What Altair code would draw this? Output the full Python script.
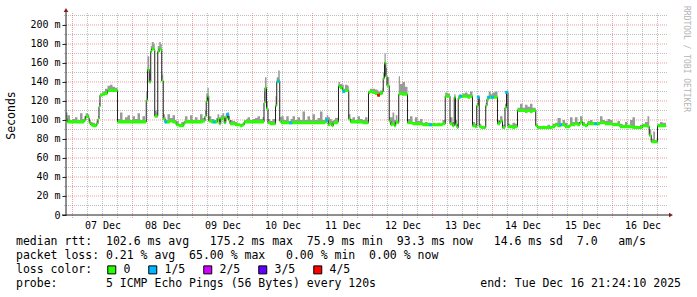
import json
import altair as alt
import pandas as pd

# ---------------- data (time = hours since 07 Dec 2025 00:00) ----------------
t_hours = [
    -2.6, -2, -1, 0, 1, 2, 3, 4, 4.7, 5.3, 6.2, 6.7, 7.3, 8, 9, 9.6, 10.2, 10.6, 11, 12, 13, 14, 15, 16, 17, 18, 19, 20, 21, 22, 23,
    24, 25, 26, 27, 28, 29, 29.5, 30, 30.7, 31.3, 31.7, 32.5, 32.9, 33.7, 34.1, 34.7, 35.3, 35.7, 36.3, 37, 37.3, 38, 39, 40, 41, 41.5, 42.5, 43.5, 44.5, 45, 46, 47,
    48, 49, 50, 51, 52, 53, 53.5, 54, 54.5, 55.5, 56.7, 57.5, 58, 58.7, 59.3, 60, 60.7, 61.3, 62, 62.5, 63, 64, 65, 66, 67, 68, 68.7, 69.5, 70, 71,
    72, 73, 74, 75, 76, 76.6, 77, 77.6, 78.2, 79, 80, 81.2, 81.7, 82.3, 82.9, 83.5, 84.5, 85.5, 86.5, 87.3, 88, 89, 90, 91, 92, 93, 94, 95,
    96, 97, 98, 99, 100, 101, 101.7, 102.3, 103, 103.7, 104.3, 105, 106, 106.4, 107, 108, 108.5, 109, 110, 110.5, 111.2, 112, 113, 114, 115, 116, 117, 118,
    118.4, 119, 120, 121, 122, 122.4, 123, 124, 124.3, 124.8, 125.3, 125.8, 126.7, 127.3, 128, 128.7, 129.3, 130, 130.5, 131, 132, 133, 134, 135, 136, 137, 138, 139, 140, 141, 142, 143.3,
    144, 145, 146, 147, 148, 149.1, 150, 151, 152, 152.7, 153.2, 153.8, 154.3, 154.8, 155.3, 156, 157, 158, 159, 160, 161, 161.7, 162.3, 162.7, 163.5, 164.5, 165.3, 165.8, 166.5, 167.3, 168,
    169, 170, 171, 172, 173, 173.6, 174.2, 175, 176, 177, 178, 179, 180, 181, 182, 183, 184, 185.3, 186, 187, 188, 189, 190, 191, 192,
    193, 194, 195.3, 196, 197, 198, 199, 200, 201, 202, 203, 204, 205, 206, 207, 208, 209.3, 210, 211, 212, 213, 214, 215, 216,
    217, 218, 219, 220, 221, 222, 223, 224, 225, 226, 227, 228, 229, 230, 230.7, 231.5, 232.3, 233, 234, 235, 236, 237.4,
]
median_ms = [
    101, 98, 98, 98, 98, 98, 98, 98, 100, 104, 102, 97, 95, 94, 94, 96, 101, 114, 126, 127, 128, 131, 131, 131, 131, 98, 98, 98, 98, 98, 98,
    98, 98, 98, 98, 98, 98, 121, 153, 140, 172, 175, 174, 104, 104, 172, 175, 174, 141, 101, 98, 98, 98, 99, 98, 97, 95, 94, 94, 96, 98, 98, 98,
    98, 98, 98, 98, 99, 104, 120, 125, 99, 98, 98, 98, 101, 96, 101, 102, 97, 102, 106, 100, 96, 96, 95, 95, 94, 95, 98, 98, 98, 98,
    98, 98, 98, 98, 98, 118, 134, 112, 97, 96, 96, 115, 140, 141, 99, 97, 97, 97, 97, 97, 97, 97, 97, 97, 97, 97, 97, 97,
    97, 97, 97, 97, 97, 98, 100, 95, 96, 94, 97, 97, 98, 136, 134, 131, 130, 131, 131, 101, 98, 98, 98, 98, 98, 97, 97, 97,
    129, 130, 129, 128, 127, 126, 128, 130, 144, 160, 146, 136, 99, 95, 96, 94, 98, 97, 127, 128, 127, 127, 97, 97, 96, 96, 96, 96, 95, 95, 95, 95,
    95, 95, 95, 95, 96, 125, 125, 96, 94, 124, 95, 92, 123, 124, 125, 125, 125, 124, 125, 94, 93, 115, 124, 93, 92, 92, 115, 122, 124, 124, 124,
    124, 96, 99, 92, 113, 129, 93, 93, 92, 93, 110, 110, 110, 109, 110, 109, 110, 94, 92, 92, 92, 92, 92, 92, 93,
    95, 94, 95, 95, 93, 93, 95, 95, 96, 95, 98, 95, 94, 96, 96, 96, 96, 96, 97, 97, 96, 96, 96, 95,
    95, 95, 93, 93, 93, 93, 93, 92, 92, 92, 92, 94, 94, 93, 84, 77, 77, 77, 94, 94, 94, 93.3,
]
smoke_max_ms = [
    108, 105, 100, 101, 103, 100, 107, 101, 104, 107, 106, 100, 98, 97, 96, 99, 104, 118, 128, 130, 133, 136, 137, 135, 134, 101, 108, 100, 103, 105, 100,
    104, 101, 107, 100, 104, 100, 130, 167, 150, 178, 182, 180, 110, 108, 178, 182, 180, 148, 106, 103, 100, 106, 102, 105, 100, 99, 96, 98, 99, 104, 100, 105,
    100, 103, 100, 106, 102, 110, 128, 134, 104, 101, 100, 102, 106, 103, 105, 107, 104, 106, 108, 104, 100, 99, 98, 96, 96, 97, 100, 101, 103, 100,
    101, 102, 104, 101, 103, 130, 145, 120, 101, 99, 101, 125, 145, 152, 103, 104, 100, 104, 99, 101, 104, 100, 103, 100, 109, 100, 104, 100,
    106, 100, 102, 109, 100, 103, 105, 103, 101, 99, 100, 102, 103, 140, 138, 137, 133, 137, 136, 106, 101, 103, 100, 104, 101, 100, 103, 100,
    131, 133, 133, 132, 131, 130, 131, 134, 150, 170, 155, 145, 103, 103, 108, 100, 105, 99, 146, 138, 140, 135, 101, 104, 98, 103, 99, 101, 97, 98, 97, 96,
    97, 96, 97, 96, 100, 129, 128, 103, 98, 127, 100, 96, 126, 127, 126, 128, 129, 127, 130, 98, 96, 118, 126, 96, 94, 93, 118, 125, 130, 127, 129,
    130, 100, 104, 95, 117, 131, 96, 95, 97, 96, 113, 117, 113, 116, 114, 117, 113, 96, 94, 93, 94, 93, 95, 93, 96,
    97, 102, 96, 100, 97, 95, 103, 98, 103, 98, 104, 98, 96, 99, 100, 98, 97, 98, 104, 100, 99, 101, 100, 97,
    97, 99, 96, 95, 98, 95, 100, 103, 94, 93, 95, 96, 98, 104, 90, 80, 88, 79, 96, 98, 97, 95,
]
assert len(t_hours) == len(median_ms) == len(smoke_max_ms)

loss_t_hours = [37.3, 56.7, 62, 82.3, 87.3, 101.7, 108.5, 122.4, 143.3, 155.3, 162.3, 166.5, 168, 173.6, 195.3, 209.3]
loss_ms = [98, 98, 106, 141, 97, 100, 130, 126, 95, 125, 124, 124, 124, 129, 95, 96]
loss_class = ["1/5", "1/5", "1/5", "1/5", "1/5", "1/5", "1/5", "4/5", "1/5", "1/5", "1/5", "1/5", "1/5", "1/5", "1/5", "1/5"]

loss_labels = ["0", "1/5", "2/5", "3/5", "4/5"]
day_labels = ["07 Dec", "08 Dec", "09 Dec", "10 Dec", "11 Dec", "12 Dec", "13 Dec", "14 Dec", "15 Dec", "16 Dec"]
y_tick_values = [0, 20, 40, 60, 80, 100, 120, 140, 160, 180, 200]

x_end = 9 * 24 + 21 + 24 / 60 + 10 / 3600     # Tue Dec 16 21:24:10
x_start = x_end - 240                          # 10 days shown

stats_rtt = ["median rtt:", "102.6 ms avg", "175.2 ms max", "75.9 ms min", "93.3 ms now", "14.6 ms sd", "7.0", "am/s"]
stats_loss = ["packet loss:", "0.21 % avg", "65.00 % max", "0.00 % min", "0.00 % now"]
probe_text = ["probe:", "5 ICMP Echo Pings (56 Bytes) every 120s"]
end_text = "end: Tue Dec 16 21:24:10 2025"
watermark = "RRDTOOL / TOBI OETIKER"

# ---------------- styles ----------------
loss_colors = ["#26ff00", "#00b8ff", "#d200ff", "#6000ff", "#ff0000"]
MONO = "DejaVu Sans Mono"
NB = "\u00a0"


def join(parts, gaps):
    out = parts[0]
    for p, g in zip(parts[1:], gaps):
        out += NB * g + p
    return out


line_rtt = join(stats_rtt, [2, 3, 2, 2, 3, 2, 3])
line_loss = join(stats_loss, [1, 2, 3, 2])
line_probe = join(probe_text, [7])

df = pd.DataFrame({"t": t_hours, "med": median_ms, "hi": smoke_max_ms})
df_loss = pd.DataFrame({"t": loss_t_hours, "med": loss_ms, "cls": loss_class})
minor_x = [h for h in range(6, 238, 6) if h % 24]
major_x = list(range(0, 238, 24))
minor_y = list(range(10, 211, 20))
major_y = list(range(20, 201, 20))
one = pd.DataFrame({"a": [0]})

xs = alt.Scale(domain=[x_start, x_end], nice=False, zero=False)
ys = alt.Scale(domain=[0, 210.5], nice=False, zero=False)

x_axis = alt.Axis(
    values=[12 + 24 * i for i in range(len(day_labels))],
    labelExpr=json.dumps(day_labels) + "[round((datum.value - 12) / 24)]",
    title=None, domain=False, grid=False, ticks=False,
    labelFont=MONO, labelFontSize=10, labelColor="#000", labelPadding=5,
    labelFlush=False, labelOverlap=False,
)
y_axis = alt.Axis(
    values=y_tick_values,
    labelExpr="datum.value == 0 ? '0' : datum.value + ' m'",
    title="Seconds", domain=False, grid=False, ticks=True, tickSize=4,
    tickColor="#1f1f1f", labelFont=MONO, labelFontSize=10, labelColor="#000",
    labelPadding=2, labelFlush=False, labelOverlap=False,
    titleFont=MONO, titleFontSize=11.5, titleFontWeight="normal", titleColor="#000",
    titleX=-55, titleY=100, titleAngle=270, titleAlign="center", titleBaseline="middle",
)


def X(f="t"):
    return alt.X(f"{f}:Q", scale=xs, axis=x_axis)


def Y(f="med"):
    return alt.Y(f"{f}:Q", scale=ys, axis=y_axis)


grid_minor_v = alt.Chart(pd.DataFrame({"t": minor_x})).mark_rule(
    color="#8f8f8f", opacity=0.6, strokeDash=[1, 1], strokeWidth=1
).encode(x=X(), y=alt.value(-2), y2=alt.value(203))
grid_major_v = alt.Chart(pd.DataFrame({"t": major_x})).mark_rule(
    color="#de4f4f", opacity=0.55, strokeDash=[1, 1], strokeWidth=1
).encode(x=X(), y=alt.value(-2), y2=alt.value(203))
grid_minor_h = alt.Chart(pd.DataFrame({"med": minor_y})).mark_rule(
    color="#8f8f8f", opacity=0.6, strokeDash=[1, 1], strokeWidth=1
).encode(y=Y(), x=alt.value(-2), x2=alt.value(602))
grid_major_h = alt.Chart(pd.DataFrame({"med": major_y})).mark_rule(
    color="#de4f4f", opacity=0.55, strokeDash=[1, 1], strokeWidth=1
).encode(y=Y(), x=alt.value(-2), x2=alt.value(602))

smoke = alt.Chart(df).mark_area(interpolate="step-after", color="#9a9a9a").encode(
    x=X(), y=Y(), y2="hi:Q"
)
median_line = alt.Chart(df).mark_line(interpolate="step-after", color="#202020", strokeWidth=1).encode(
    x=X(), y=Y()
)
band = alt.Chart(df).transform_calculate(
    lo="datum.med - 1.6", up="datum.med + 1.6"
).mark_area(interpolate="step-after", color=loss_colors[0]).encode(
    x=X(), y=Y("lo"), y2="up:Q"
)
loss_marks = alt.Chart(df_loss).mark_square(size=8, opacity=1, filled=True).encode(
    x=X(), y=Y(),
    color=alt.Color(
        "cls:N",
        scale=alt.Scale(domain=loss_labels, range=loss_colors),
        legend=alt.Legend(
            title=None, orient="none", legendX=40, legendY=249, direction="horizontal",
            symbolType="square", symbolSize=64, symbolStrokeColor="#000", symbolStrokeWidth=1,
            symbolOpacity=1, labelFont=MONO, labelFontSize=11.5, labelColor="#000",
            labelOffset=6, columnPadding=15, padding=0, labelLimit=0,
        ),
    ),
)

y_axis_line = alt.Chart(one).mark_rule(color="#1f1f1f", strokeWidth=1).encode(
    x=alt.value(0), y=alt.value(-4), y2=alt.value(200)
)
x_axis_line = alt.Chart(one).mark_rule(color="#1f1f1f", strokeWidth=1).encode(
    x=alt.value(-4), x2=alt.value(604), y=alt.value(200)
)
arrow_up = alt.Chart(one).mark_point(shape="triangle-up", filled=True, color="#801f1f", size=22, opacity=1).encode(
    x=alt.value(0), y=alt.value(-5)
)
arrow_right = alt.Chart(one).mark_point(shape="triangle-right", filled=True, color="#801f1f", size=22, opacity=1).encode(
    x=alt.value(605), y=alt.value(200)
)


def txt(s, x, y, align="left", **kw):
    return alt.Chart(one).mark_text(
        text=s, align=align, baseline="middle", font=MONO, fontSize=kw.pop("fontSize", 11.5),
        color=kw.pop("color", "#000"), **kw
    ).encode(x=alt.value(x), y=alt.value(y))


t1 = txt(line_rtt, -50, 227)
t2 = txt(line_loss, -50, 241)
t3 = txt("loss\u00a0color:", -50, 255)
t4 = txt(line_probe, -50, 269)
t5 = txt(end_text, 615, 269, align="right")
wm = txt(watermark, 620, 44, align="center", fontSize=8, color="#b4b4b4", angle=90)

chart = alt.layer(
    grid_minor_v, grid_minor_h, grid_major_v, grid_major_h,
    smoke, median_line, band, loss_marks,
    y_axis_line, x_axis_line, arrow_up, arrow_right,
    t1, t2, t3, t4, t5, wm,
).properties(
    width=600, height=200,
    padding={"left": 66, "top": 15, "right": 31, "bottom": 82},
    autosize=alt.AutoSizeParams(type="none"),
    background="#ffffff",
).configure_view(stroke=None)

chart.save("out.html", embed_options={"renderer": "svg", "actions": False})
